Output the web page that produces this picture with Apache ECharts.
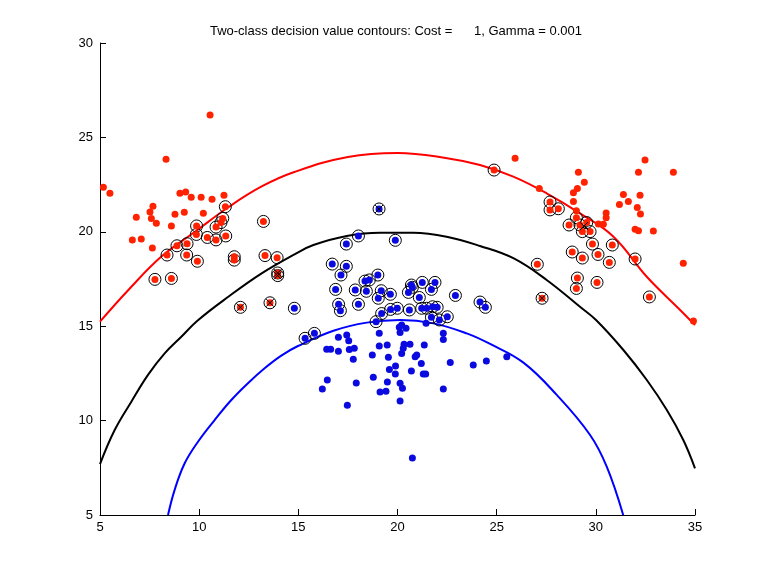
<!DOCTYPE html>
<html>
<head>
<meta charset="utf-8">
<script src="https://cdn.jsdelivr.net/npm/echarts@6/dist/echarts.min.js"></script>
<style>html,body{margin:0;padding:0;background:#fff}#c{width:768px;height:576px}</style>
</head>
<body>
<div id="c"></div>
<script>
const titleText = "Two-class decision value contours: Cost =      1, Gamma = 0.001";
const xTicks = [5, 10, 15, 20, 25, 30, 35];
const yTicks = [5, 10, 15, 20, 25, 30];

const redCurve = [[5,15.24],[6.43,16.92],[8.11,18.7],[9.79,20.0],[11.47,21.3],[13.15,22.4],[14.83,23.18],[17.5,23.96],[20,24.17],[22.5,23.9],[24.16,23.54],[25.84,22.92],[27.52,22.04],[29.2,20.98],[30.89,19.74],[32.57,17.62],[34.25,15.86],[35,15.06]];
const blackCurve = [[5.0,7.7],[5.74,9.5],[6.58,11.0],[7.42,12.42],[8.26,13.56],[9.1,14.44],[9.91,15.29],[11.47,16.56],[13.15,17.8],[14.83,18.82],[15.76,19.3],[17.44,19.78],[19.12,19.95],[20.8,19.95],[22.48,19.74],[24.16,19.25],[25.84,18.6],[27.52,17.45],[29.2,16.03],[30.01,15.33],[31.39,13.74],[32.57,12.15],[33.58,10.56],[34.41,8.97],[35,7.47]];
const blueCurve = [[8.43,5.0],[8.76,6.32],[9.27,7.74],[9.94,8.88],[10.78,10.03],[11.62,11.09],[12.46,11.98],[13.3,12.77],[14.14,13.44],[14.98,13.95],[16.77,14.76],[18.45,15.19],[20.13,15.33],[21.81,15.15],[23.49,14.62],[24.67,14.06],[26.35,13.07],[28.03,11.36],[29.71,9.24],[30.55,7.56],[31.38,5.0]];

const redDots = [[10.55,26.19],[5.17,22.36],[5.5,22.04],[8.33,23.84],[9.03,22.04],[9.32,22.11],[9.6,21.83],[10.1,21.83],[10.65,21.72],[11.25,21.93],[7.67,21.35],[7.52,21.05],[6.83,20.77],[7.59,20.71],[7.84,20.45],[8.78,20.93],[9.25,21.03],[10.21,20.98],[8.6,20.31],[6.63,19.57],[7.08,19.62],[7.64,19.14],
  [25.93,23.89],[32.48,23.8],[29.12,23.15],[32.15,23.15],[33.91,23.15],[29.42,22.62],[27.15,22.3],[29.07,22.3],[28.87,22.07],[31.39,21.98],[32.23,21.93],[31.64,21.61],[28.87,21.61],[31.19,21.45],[32.09,21.29],[29.02,21.12],[30.52,21.0],[32.25,20.94],[30.52,20.75],[30.13,20.41],[30.38,20.4],[31.98,20.13],[32.15,20.06],[32.9,20.04],[34.41,18.33],[34.92,15.28]];
const redSV = [[11.32,21.33],[11.19,20.71],[11.1,20.49],[9.87,20.31],[10.85,20.25],[9.86,19.86],[10.41,19.7],[10.85,19.57],[11.34,19.78],[8.88,19.26],[9.39,19.37],[8.38,18.77],[9.37,18.77],[9.91,18.44],[7.77,17.48],[8.6,17.53],[11.77,18.68],[11.77,18.5],[13.24,20.55],[13.32,18.74],[13.93,18.63],[13.96,17.82],[13.96,17.68],[12.08,16.0],[13.57,16.24],
  [24.87,23.27],[27.69,21.58],[27.69,21.16],[28.11,21.22],[29.02,20.75],[28.65,20.36],[29.2,20.36],[29.54,20.49],[29.32,20.01],[29.71,20.01],[29.83,19.35],[30.83,19.3],[28.81,18.93],[29.32,18.61],[30.11,18.8],[30.68,18.38],[31.98,18.56],[27.05,18.28],[29.07,17.55],[29.02,17.0],[30.06,17.32],[32.7,16.55],[27.29,16.48]];
const redCrossed = [[13.96,17.82],[13.96,17.68],[12.08,16.0],[13.57,16.24],[27.29,16.48],[29.4,20.3]];

const blueDots = [[20.21,15.06],[20.09,14.94],[20.43,14.89],[20.13,14.66],[19.08,14.62],[21.44,15.15],[22.31,14.62],[22.31,14.3],[17.02,14.41],[17.44,14.53],[17.54,14.23],[16.43,13.78],[16.63,13.78],[17.02,13.67],[17.57,13.76],[17.82,13.83],[17.77,13.25],[19.08,13.95],[19.48,14.0],[20.33,14.04],[20.63,14.04],[20.29,13.83],[21.35,14.0],[20.21,13.56],[18.73,13.47],[19.54,13.35],[20.97,13.47],[20.89,13.38],[21.2,13.03],[22.66,13.08],[23.82,12.94],[24.48,13.16],[25.51,13.38],[19.9,12.89],[19.59,12.71],[20.7,12.63],[19.89,12.47],[21.3,12.47],[21.42,12.47],[18.78,12.29],[16.46,12.15],[16.21,11.67],[17.92,11.99],[19.49,12.04],[20.13,11.98],[20.25,11.71],[19.12,11.51],[19.42,11.55],[22.31,11.67],[17.47,10.81],[20.13,11.04],[20.75,8.02]];
const blueSV = [[19.07,21.21],[18.03,19.78],[17.42,19.35],[19.89,19.55],[16.71,18.29],[17.42,18.17],[17.15,17.71],[19.01,17.71],[18.36,17.39],[18.58,17.45],[16.88,16.95],[17.87,16.92],[18.43,16.85],[19.18,16.88],[19.64,16.69],[19.03,16.48],[20.7,17.18],[20.75,17.06],[21.25,17.32],[21.89,17.32],[21.71,16.95],[20.55,16.79],[21.1,16.52],[22.92,16.63],[24.16,16.28],[24.43,16.0],[14.8,15.95],[17.03,16.16],[17.12,15.82],[18.03,16.16],[19.2,15.67],[19.65,15.89],[19.99,15.95],[20.6,15.86],[21.22,15.95],[21.47,15.95],[21.77,16.03],[22.0,16.0],[21.71,15.47],[22.11,15.33],[22.51,15.5],[18.92,15.24],[15.34,14.36],[15.81,14.62]];
const blueCrossed = [[19.07,21.21]];

const FONT = "'Liberation Sans', Arial, Helvetica, sans-serif";
const chart = echarts.init(document.getElementById('c'), null, {renderer: 'canvas'});
const axisCommon = {
  type: 'value', interval: 5,
  axisLine: {show: true, onZero: false, lineStyle: {color: '#000', width: 1}},
  axisTick: {show: true, inside: true, length: 6, lineStyle: {color: '#000', width: 1}},
  splitLine: {show: false},
  axisLabel: {color: '#000', fontSize: 13, fontFamily: FONT, showMinLabel: true, showMaxLabel: true}
};
const ringStyle = {color: 'rgba(0,0,0,0)', borderColor: '#000', borderWidth: 1, opacity: 1};
const curve = (data, color) => ({type: 'line', data: data, smooth: 0.4, showSymbol: false,
  lineStyle: {color: color, width: 2}, clip: true, z: 2});
chart.setOption({
  animation: false,
  backgroundColor: '#fff',
  title: {
    text: titleText, left: 391, top: 20, textAlign: 'center',
    textStyle: {fontSize: 13, fontWeight: 'normal', color: '#000', fontFamily: FONT}
  },
  grid: {left: 100, right: 73, top: 43, bottom: 61, containLabel: false},
  xAxis: Object.assign({}, axisCommon, {min: xTicks[0], max: xTicks[xTicks.length-1], axisLabel: Object.assign({}, axisCommon.axisLabel, {margin: 6})}),
  yAxis: Object.assign({}, axisCommon, {min: yTicks[0], max: yTicks[yTicks.length-1], axisLabel: Object.assign({}, axisCommon.axisLabel, {margin: 7})}),
  series: [
    curve(redCurve, '#ff0000'),
    curve(blackCurve, '#000000'),
    curve(blueCurve, '#0000ff'),
    {type: 'scatter', data: redSV, symbol: 'circle', symbolSize: 12, itemStyle: ringStyle, z: 3},
    {type: 'scatter', data: blueSV, symbol: 'circle', symbolSize: 12, itemStyle: ringStyle, z: 3},
    {type: 'scatter', data: redDots.concat(redSV), symbol: 'circle', symbolSize: 7, itemStyle: {color: '#ff2200', opacity: 1}, z: 4},
    {type: 'scatter', data: blueDots.concat(blueSV), symbol: 'circle', symbolSize: 7, itemStyle: {color: '#0a0ae0', opacity: 1}, z: 4},
    {type: 'scatter', data: redCrossed.concat(blueCrossed), symbol: 'path://M0,0L10,10M10,0L0,10', symbolSize: 8,
      itemStyle: {color: 'rgba(0,0,0,0)', borderColor: '#000', borderWidth: 1, opacity: 1}, z: 5}
  ]
});
</script>
</body>
</html>
